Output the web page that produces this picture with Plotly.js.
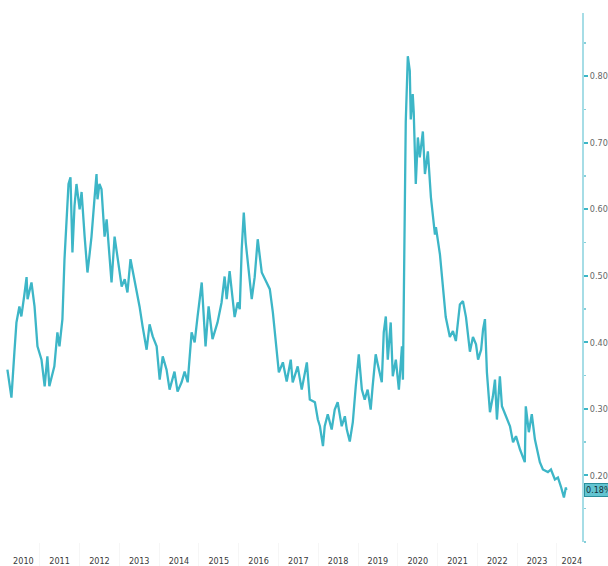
<!DOCTYPE html>
<html>
<head>
<meta charset="utf-8">
<script src="https://cdn.plot.ly/plotly-3.0.1.min.js"></script>
<style>html,body{margin:0;padding:0;background:#fff;}#chart{width:608px;height:566px;}</style>
</head>
<body>
<div id="chart"></div>
<script>
var dates = [
"2010-03-10","2010-04-16","2010-05-13","2010-06-01","2010-06-28","2010-07-16","2010-08-13","2010-09-02","2010-09-11","2010-10-17",
"2010-11-14","2010-12-11","2011-01-17","2011-02-15","2011-03-12","2011-03-30","2011-05-15","2011-06-12","2011-07-01","2011-07-28",
"2011-08-16","2011-09-04","2011-09-22","2011-10-10","2011-10-28","2011-11-16","2011-12-04","2012-01-02","2012-01-20","2012-02-17",
"2012-03-14","2012-04-02","2012-04-20","2012-05-17","2012-06-05","2012-06-14","2012-07-02","2012-07-21","2012-08-18","2012-09-06",
"2012-10-03","2012-10-21","2012-11-18","2012-12-16","2013-01-22","2013-02-19","2013-03-16","2013-04-13","2013-05-01","2013-06-08",
"2013-07-05","2013-08-02","2013-09-08","2013-10-05","2013-11-03","2013-12-09","2014-01-06","2014-02-03","2014-03-10","2014-04-07",
"2014-05-22","2014-06-19","2014-07-26","2014-08-23","2014-09-20","2014-10-26","2014-11-23","2014-12-20","2015-01-27","2015-03-03",
"2015-03-31","2015-05-06","2015-06-21","2015-07-28","2015-08-25","2015-09-13","2015-10-10","2015-11-07","2015-11-25","2015-12-23",
"2016-01-11","2016-01-29","2016-02-17","2016-03-06","2016-03-24","2016-04-30","2016-05-27","2016-06-24","2016-07-31","2016-08-28",
"2016-10-13","2016-11-10","2016-12-16","2017-01-04","2017-02-10","2017-03-17","2017-04-23","2017-05-11","2017-06-26","2017-08-02",
"2017-09-18","2017-10-15","2017-12-01","2017-12-28","2018-01-16","2018-02-13","2018-03-01","2018-03-29","2018-05-04","2018-06-01",
"2018-06-28","2018-08-04","2018-09-02","2018-09-20","2018-10-17","2018-11-14","2018-12-11","2019-01-08","2019-02-05","2019-03-03",
"2019-03-30","2019-04-27","2019-05-15","2019-06-12","2019-07-01","2019-08-07","2019-08-25","2019-09-13","2019-10-01","2019-10-28",
"2019-11-16","2019-12-14","2020-01-11","2020-02-08","2020-02-17","2020-03-05","2020-03-14","2020-04-02","2020-04-20","2020-04-29",
"2020-05-17","2020-05-26","2020-06-14","2020-07-03","2020-07-21","2020-08-18","2020-09-06","2020-10-03","2020-10-21","2020-10-31",
"2020-12-07","2020-12-16","2021-01-22","2021-02-19","2021-03-16","2021-04-23","2021-05-21","2021-06-17","2021-07-24","2021-08-21",
"2021-09-18","2021-10-24","2021-11-21","2021-12-19","2022-01-07","2022-02-04","2022-02-22","2022-03-11","2022-03-29","2022-04-26",
"2022-05-23","2022-06-11","2022-06-29","2022-07-26","2022-08-14","2022-09-20","2022-10-27","2022-11-24","2022-12-21","2023-01-27",
"2023-03-12","2023-03-21","2023-04-18","2023-05-15","2023-06-13","2023-07-28","2023-08-25","2023-10-10","2023-11-07","2023-12-13",
"2024-01-10","2024-02-07","2024-03-05","2024-03-23","2024-03-27"
];
var values = [
0.359,0.317,0.385,0.430,0.454,0.439,0.472,0.498,0.465,0.490,
0.454,0.394,0.374,0.334,0.379,0.334,0.364,0.415,0.394,0.435,
0.525,0.595,0.638,0.648,0.535,0.605,0.638,0.600,0.626,0.559,
0.505,0.532,0.559,0.615,0.653,0.615,0.638,0.630,0.559,0.585,
0.535,0.490,0.559,0.525,0.484,0.495,0.475,0.525,0.510,0.475,
0.454,0.424,0.389,0.427,0.409,0.394,0.344,0.379,0.359,0.329,
0.356,0.326,0.340,0.356,0.340,0.415,0.400,0.439,0.490,0.394,
0.454,0.405,0.430,0.460,0.499,0.465,0.507,0.465,0.438,0.460,
0.450,0.540,0.595,0.550,0.520,0.465,0.498,0.555,0.505,0.495,
0.480,0.445,0.385,0.355,0.370,0.341,0.374,0.340,0.364,0.329,
0.370,0.314,0.310,0.284,0.274,0.244,0.274,0.292,0.269,0.299,
0.310,0.274,0.289,0.269,0.251,0.280,0.334,0.382,0.329,0.314,
0.329,0.299,0.334,0.382,0.367,0.340,0.415,0.439,0.374,0.430,
0.349,0.374,0.329,0.394,0.344,0.547,0.732,0.830,0.808,0.735,
0.773,0.747,0.638,0.708,0.678,0.717,0.653,0.687,0.648,0.618,
0.562,0.573,0.532,0.487,0.438,0.408,0.417,0.402,0.457,0.462,
0.438,0.386,0.408,0.397,0.374,0.389,0.420,0.435,0.355,0.295,
0.319,0.344,0.284,0.349,0.304,0.289,0.274,0.250,0.259,0.239,
0.220,0.304,0.265,0.292,0.254,0.220,0.209,0.205,0.209,0.194,
0.197,0.183,0.167,0.182,0.178
];
var yTickVals = [0.2,0.3,0.4,0.5,0.6,0.7,0.8];
var yTickText = ["0.20%","0.30%","0.40%","0.50%","0.60%","0.70%","0.80%"];
var yMinorVals = [0.10,0.15,0.25,0.35,0.45,0.55,0.65,0.75,0.85];
var xTickVals = ["2010-08-04","2011-07-02","2012-07-02","2013-07-02","2014-07-02","2015-07-02","2016-07-02","2017-07-02","2018-07-02","2019-07-02","2020-07-02","2021-07-02","2022-07-02","2023-07-02","2024-05-17"];
var xTickText = ["2010","2011","2012","2013","2014","2015","2016","2017","2018","2019","2020","2021","2022","2023","2024"];
var yearStarts = ["2011-01-01","2012-01-01","2013-01-01","2014-01-01","2015-01-01","2016-01-01","2017-01-01","2018-01-01","2019-01-01","2020-01-01","2021-01-01","2022-01-01","2023-01-01","2024-01-01"];

var lastVal = values[values.length-1];
var fontFam = "Liberation Sans Narrow, DejaVu Sans Condensed, Liberation Sans, sans-serif";

var trace = {
  x: dates, y: values, type: "scatter", mode: "lines",
  line: {color: "#3db6c7", width: 2.3},
  hoverinfo: "skip"
};

var layout = {
  width: 608, height: 566,
  margin: {l: 0, r: 26, t: 13, b: 24},
  paper_bgcolor: "#ffffff", plot_bgcolor: "#ffffff",
  showlegend: false,
  xaxis: {
    type: "date", range: ["2010-01-01", "2024-08-18"],
    showgrid: false, zeroline: false, showline: false,
    tickmode: "array", tickvals: xTickVals, ticktext: xTickText,
    ticks: "outside", ticklen: 10, tickcolor: "rgba(0,0,0,0)",
    tickfont: {family: fontFam, size: 9, color: "#3a3a3a"},
    minor: {tickmode: "array", tickvals: yearStarts, ticks: "outside", ticklen: 24, tickcolor: "#f6f6f6", tickwidth: 1, showgrid: false}
  },
  yaxis: {
    side: "right", range: [0.10, 0.895],
    showgrid: false, zeroline: false,
    showline: true, linecolor: "#a6dde6", linewidth: 2,
    tickmode: "array", tickvals: yTickVals, ticktext: yTickText,
    ticks: "outside", ticklen: 4, tickwidth: 2, tickcolor: "#3db6c7",
    tickfont: {family: fontFam, size: 9, color: "#666666"},
    minor: {tickmode: "array", tickvals: yMinorVals, ticks: "outside", ticklen: 2, tickwidth: 1.5, tickcolor: "#86cfda", showgrid: false}
  },
  annotations: [{
    xref: "paper", yref: "y", x: 1, y: lastVal,
    xanchor: "left", yanchor: "middle", xshift: 2,
    text: lastVal.toFixed(2) + "%", showarrow: false,
    font: {family: fontFam, size: 9, color: "#17323a"},
    bgcolor: "#62c4d1", bordercolor: "#2a8e9b", borderwidth: 1, borderpad: 1
  }]
};

Plotly.newPlot("chart", [trace], layout, {displayModeBar: false, staticPlot: true});
</script>
</body>
</html>
